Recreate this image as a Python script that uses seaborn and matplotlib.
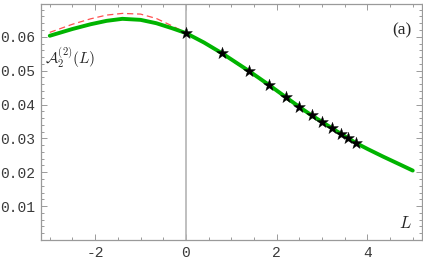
import matplotlib
matplotlib.use('Agg')
import matplotlib.pyplot as plt
import seaborn as sns
import pandas as pd
from matplotlib.ticker import MultipleLocator, FixedLocator

# green curve
green_x = [-3.0, -2.5, -2.1, -1.75, -1.4, -1.0, -0.65, -0.3, 0.0, 0.4, 0.8, 1.39, 1.83,
           2.2, 2.5, 2.77, 3.01, 3.22, 3.41, 3.58, 3.74, 4.0, 4.35, 4.7, 5.0]
green_y = [0.0603, 0.0623, 0.0637, 0.0647, 0.0653, 0.0650, 0.0640, 0.0625, 0.0611, 0.0583, 0.0551,
           0.0499, 0.0458, 0.0422, 0.0393, 0.0368, 0.0348, 0.0330, 0.0314, 0.0300, 0.0287,
           0.0269, 0.0246, 0.0224, 0.0205]

# red dashed curve
red_x = [-3.0, -2.5, -2.1, -1.75, -1.4, -1.0, -0.65, -0.3, 0.0, 0.4, 0.8, 1.39, 1.83,
         2.2, 2.5, 2.77, 3.01, 3.22, 3.41, 3.58, 3.74]
red_y = [0.0613, 0.0637, 0.0653, 0.0664, 0.0669, 0.0667, 0.0654, 0.0632, 0.0612, 0.0581, 0.0548,
         0.0496, 0.0455, 0.0419, 0.0390, 0.0365, 0.0345, 0.0327, 0.0311, 0.0297, 0.0284]

# stars
star_x = [0.0, 0.8, 1.39, 1.83, 2.2, 2.5, 2.77, 3.01, 3.22, 3.41, 3.58, 3.74]
star_y = [0.0611, 0.0551, 0.0499, 0.0458, 0.0422, 0.0393, 0.0368, 0.0348, 0.0330, 0.0314, 0.0300, 0.0287]

sns.set_style('white')
frame_c = '#9a9a9a'

fig = plt.figure(figsize=(4.23, 2.62), dpi=100)
ax = fig.add_axes([0.0962, 0.084, 0.901, 0.901])

ax.axvline(0, color='#b4b4b4', lw=1.2, zorder=1)

g = pd.DataFrame({'L': green_x, 'A': green_y})
r = pd.DataFrame({'L': red_x, 'A': red_y})
s = pd.DataFrame({'L': star_x, 'A': star_y})

sns.lineplot(data=r, x='L', y='A', ax=ax, color='#ff5050', lw=0.9, dashes=False,
             linestyle=(0, (5, 3)), zorder=2, sort=False)
sns.lineplot(data=g, x='L', y='A', ax=ax, color='#00b400', lw=2.8, zorder=3, sort=False)
sns.scatterplot(data=s, x='L', y='A', ax=ax, marker='*', s=80, color='black',
                edgecolor='black', linewidth=0.3, zorder=4)

ax.set_xlim(-3.2, 5.2)
ax.set_ylim(0, 0.0697)
ax.set_xlabel('')
ax.set_ylabel('')

ax.xaxis.set_major_locator(FixedLocator([-2, 0, 2, 4]))
ax.xaxis.set_minor_locator(MultipleLocator(0.5))
ax.yaxis.set_major_locator(FixedLocator([0.01, 0.02, 0.03, 0.04, 0.05, 0.06]))
ax.yaxis.set_minor_locator(MultipleLocator(0.002))
ax.set_xticklabels(['-2', '0', '2', '4'])
ax.set_yticklabels(['0.01', '0.02', '0.03', '0.04', '0.05', '0.06'])

for sp in ax.spines.values():
    sp.set_color(frame_c)
    sp.set_linewidth(0.9)
ax.tick_params(which='both', direction='in', top=True, right=True, bottom=True, left=True,
               color=frame_c, width=0.7)
ax.tick_params(which='major', length=4, labelsize=10.5, pad=4, labelcolor='#3a3a3a')
ax.tick_params(which='minor', length=2)
for lab in ax.get_xticklabels() + ax.get_yticklabels():
    lab.set_family('Liberation Mono')

plt.rcParams['mathtext.fontset'] = 'cm'
ax.text(-3.1, 0.0540, r'$\mathcal{A}_2^{(2)}(L)$', fontsize=11, ha='left', va='center')
ax.text(4.97, 0.0620, '(a)', fontsize=12.5, ha='right', va='center', family='Liberation Serif')
ax.text(4.97, 0.0025, r'$L$', fontsize=12, ha='right', va='bottom')

fig.savefig('out.png', dpi=100)
